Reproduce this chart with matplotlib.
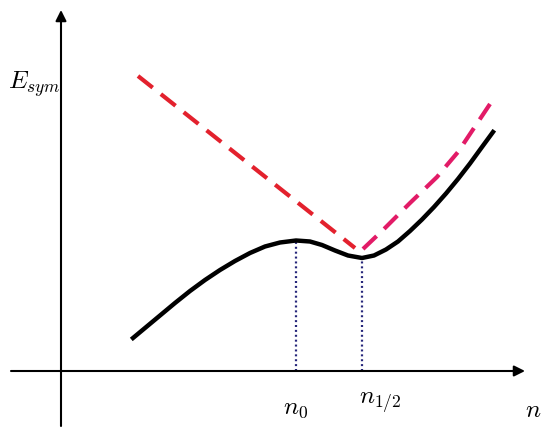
import matplotlib
matplotlib.use("Agg")
import matplotlib.pyplot as plt

plt.rcParams['mathtext.fontset'] = 'cm'

# solid curve E_sym(n)
n_solid = [72, 84, 99, 114, 129, 144, 159, 174, 189, 204, 219, 235, 249, 261, 274,
           287, 301, 313, 325, 337, 349, 361, 373, 385, 397, 409, 421, 432]
e_solid = [33, 43, 55.5, 68, 80, 91, 101, 110, 118, 124.5, 128.5, 130.5, 129.5, 126,
           120.5, 115.5, 113, 115.5, 121.5, 129.5, 140, 151.5, 164, 177.5, 192, 207.5,
           224, 239]

# dashed line, left (red) and right (pink) parts
n_red = [77, 294]
e_red = [295, 123]
n_pink = [302, 322, 349, 376, 386, 397, 417, 429]
e_pink = [122, 141, 168, 194, 206, 219, 249, 267]

# marked densities
n_marks = [235, 301]
e_marks = [130, 113]

fig = plt.figure(figsize=(5.5, 4.37), dpi=100)
ax = fig.add_axes([0, 0, 1, 1])
ax.set_xlim(-61, 489)
ax.set_ylim(-66, 371)
ax.axis('off')

# axes with arrows
ax.annotate('', xy=(0, 361), xytext=(0, -55),
            arrowprops=dict(arrowstyle='-|>', color='black', lw=1.5,
                            mutation_scale=16, shrinkA=0, shrinkB=0))
ax.annotate('', xy=(464, 0), xytext=(-50, 0),
            arrowprops=dict(arrowstyle='-|>', color='black', lw=1.5,
                            mutation_scale=16, shrinkA=0, shrinkB=0))

for x, y in zip(n_marks, e_marks):
    ax.plot([x, x], [0, y], color='#26267a', lw=1.6, linestyle=(0, (0.9, 1.3)))

ax.plot(n_solid, e_solid, color='black', lw=3.2, solid_joinstyle='round')
ax.plot(n_red, e_red, color='#e3212d', lw=3, linestyle=(0, (4.5, 2.5)))
ax.plot(n_pink, e_pink, color='#e21b67', lw=3, linestyle=(0, (4.5, 2.5)))

ax.text(-27, 287, r'$E_{sym}$', fontsize=18, ha='center', va='center')
ax.text(235, -37, r'$n_0$', fontsize=18, ha='center', va='center')
ax.text(319, -32, r'$n_{1/2}$', fontsize=18, ha='center', va='center')
ax.text(472, -39, r'$n$', fontsize=18, ha='center', va='center')

fig.savefig('out.png', dpi=100)
